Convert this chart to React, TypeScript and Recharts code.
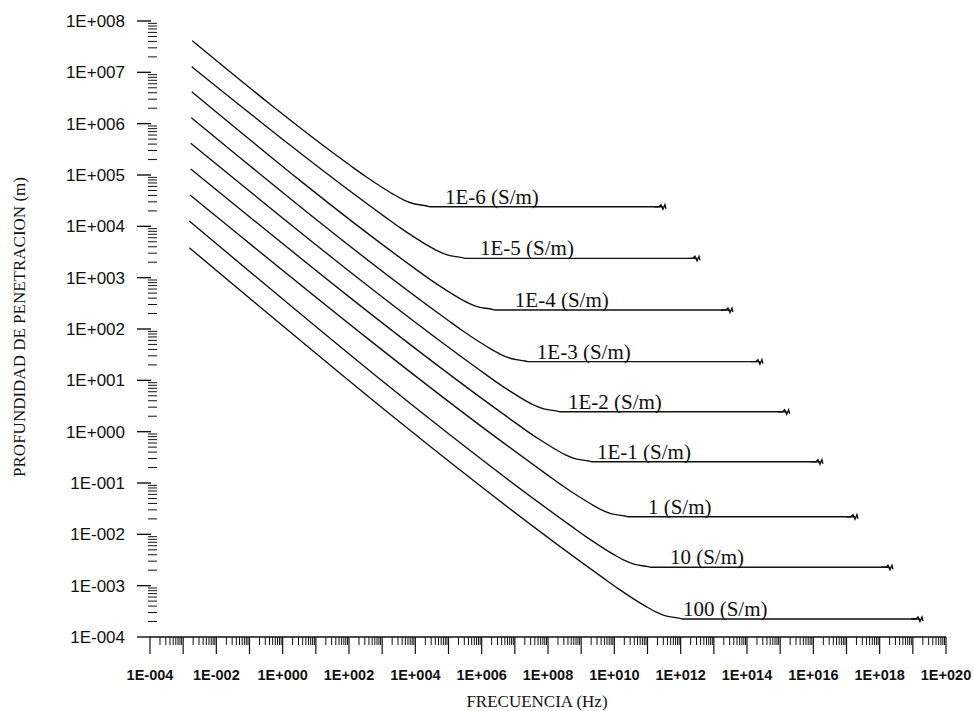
import React from 'react';
import { LineChart, Line, XAxis, YAxis, ReferenceDot } from 'recharts';

// ---- Data (frequency in Hz, depth in m) ----
const seriesNames = ['1E-6 (S/m)', '1E-5 (S/m)', '1E-4 (S/m)', '1E-3 (S/m)', '1E-2 (S/m)', '1E-1 (S/m)', '1 (S/m)', '10 (S/m)', '100 (S/m)'];

const freqS1 = [1.88e-3, 107, 303, 859, 2120, 4240, 8470, 2.24e4, 2.76e4, 2.92e11];
const depthS1 = [4.13e7, 1.545e5, 9.55e4, 6.1e4, 4.26e4, 3.33e4, 2.78e4, 2.49e4, 2.41e4, 2.41e4];

const freqS2 = [1.81e-3, 1216, 3440, 9770, 2.41e4, 4.82e4, 9.64e4, 2.55e5, 3.14e5, 3.1e12];
const depthS2 = [1.29e7, 1.528e4, 9440, 6030, 4210, 3290, 2750, 2460, 2380, 2380];

const freqS3 = [1.81e-3, 9750, 2.76e4, 7.83e4, 1.93e5, 3.86e5, 7.73e5, 2.05e6, 2.52e6, 3.06e13];
const depthS3 = [4.2e6, 1503, 929, 593, 414, 324, 270, 242, 234, 234];

const freqS4 = [1.76e-3, 9.64e4, 2.73e5, 7.74e5, 1.91e6, 3.82e6, 7.64e6, 2.02e7, 2.49e7, 2.45e14];
const depthS4 = [1.31e6, 148, 91.4, 58.3, 40.7, 31.8, 26.6, 23.8, 23.1, 23.1];

const freqS5 = [1.69e-3, 8.89e5, 2.52e6, 7.14e6, 1.76e7, 3.52e7, 7.05e7, 1.87e8, 2.3e8, 1.57e15];
const depthS5 = [4.14e5, 15.7, 9.68, 6.18, 4.32, 3.37, 2.82, 2.52, 2.44, 2.44];

const freqS6 = [1.69e-3, 8.18e6, 2.32e7, 6.58e7, 1.62e8, 3.24e8, 6.49e8, 1.72e9, 2.11e9, 1.58e16];
const depthS6 = [1.31e5, 1.662, 1.028, 0.657, 0.4586, 0.3584, 0.2995, 0.2677, 0.2594, 0.2594];

const freqS7 = [1.61e-3, 9.98e7, 2.82e8, 8.02e8, 1.98e9, 3.95e9, 7.91e9, 2.09e10, 2.58e10, 1.8e17];
const depthS7 = [4.07e4, 0.141, 0.0873, 0.0558, 0.039, 0.0304, 0.0254, 0.0227, 0.022, 0.022];

const freqS8 = [1.53e-3, 4.92e8, 1.39e9, 3.95e9, 9.75e9, 1.95e10, 3.9e10, 1.03e11, 1.27e11, 2.04e18];
const depthS8 = [1.27e4, 0.01457, 9.02e-3, 5.76e-3, 4.02e-3, 3.14e-3, 2.63e-3, 2.35e-3, 2.28e-3, 2.28e-3];

const freqS9 = [1.53e-3, 4.48e9, 1.27e10, 3.6e10, 8.87e10, 1.77e11, 3.55e11, 9.4e11, 1.16e12, 1.64e19];
const depthS9 = [3.83e3, 1.433e-3, 8.87e-4, 5.67e-4, 3.96e-4, 3.09e-4, 2.58e-4, 2.31e-4, 2.24e-4, 2.24e-4];

// frequency where each curve label starts (on its flat part)
const labelFreqs = [7.8e4, 8.9e5, 1.0e7, 4.6e7, 4.0e8, 3.0e9, 1.03e11, 4.75e11, 1.17e12];

// ---- Axis ticks ----
const xMajorTicks = [1e-4, 1e-3, 1e-2, 1e-1, 1e0, 1e1, 1e2, 1e3, 1e4, 1e5, 1e6, 1e7, 1e8, 1e9, 1e10, 1e11, 1e12, 1e13, 1e14, 1e15, 1e16, 1e17, 1e18, 1e19, 1e20];
const xTickLabels = ['1E-004', '1E-002', '1E+000', '1E+002', '1E+004', '1E+006', '1E+008', '1E+010', '1E+012', '1E+014', '1E+016', '1E+018', '1E+020'];
const yMajorTicks = [1e8, 1e7, 1e6, 1e5, 1e4, 1e3, 1e2, 1e1, 1e0, 1e-1, 1e-2, 1e-3, 1e-4];
const yTickLabels = ['1E+008', '1E+007', '1E+006', '1E+005', '1E+004', '1E+003', '1E+002', '1E+001', '1E+000', '1E-001', '1E-002', '1E-003', '1E-004'];
const minorMultipliers = [2, 3, 4, 5, 6, 7, 8, 9];

const xTicksAll: number[] = [...xMajorTicks];
for (let e = -4; e < 20; e++) for (const m of minorMultipliers) xTicksAll.push(m * Math.pow(10, e));
xTicksAll.sort((a, b) => a - b);
const yTicksAll: number[] = [...yMajorTicks];
for (let e = -4; e < 8; e++) for (const m of minorMultipliers) yTicksAll.push(m * Math.pow(10, e));
yTicksAll.sort((a, b) => a - b);

const freqs = [freqS1, freqS2, freqS3, freqS4, freqS5, freqS6, freqS7, freqS8, freqS9];
const depths = [depthS1, depthS2, depthS3, depthS4, depthS5, depthS6, depthS7, depthS8, depthS9];
const seriesData = freqs.map((fs, i) => fs.map((f, j) => ({ f, d: depths[i][j] })));

const INK = '#111';
const SERIF = '"Liberation Serif", "Times New Roman", serif';
const SANS = '"Liberation Sans", Arial, sans-serif';

const decadeOf = (v: number) => {
  const l = Math.log10(v);
  const r = Math.round(l);
  return Math.abs(l - r) < 1e-6 ? r : null;
};

const XTick = (props: any) => {
  const { x, y, payload } = props;
  const e = decadeOf(payload.value);
  if (e === null) {
    return <line x1={x} x2={x} y1={y} y2={y + 8} stroke={INK} strokeWidth={1} />;
  }
  const lab = e % 2 === 0 ? xTickLabels[(e + 4) / 2] : null;
  return (
    <g>
      <line x1={x} x2={x} y1={y} y2={y + 17} stroke={INK} strokeWidth={1.2} />
      {lab && (
        <text x={x} y={y + 43} textAnchor="middle" fontFamily={SANS} fontSize={14.5} fontWeight={700} fill={INK}>
          {lab}
        </text>
      )}
    </g>
  );
};

const YTick = (props: any) => {
  const { x, y, payload } = props;
  const e = decadeOf(payload.value);
  if (e === null) {
    return <line x1={x - 2} x2={x + 7} y1={y} y2={y} stroke={INK} strokeWidth={1} />;
  }
  return (
    <g>
      <line x1={x - 13} x2={x + 1} y1={y} y2={y} stroke={INK} strokeWidth={1.4} />
      <text x={x - 25} y={y + 6} textAnchor="end" fontFamily={SANS} fontSize={17} fill={INK}>
        {yTickLabels[8 - e]}
      </text>
    </g>
  );
};

const makeEndMark = (n: number) => (props: any) => {
  const { cx, cy, index } = props;
  if (index !== n - 1 || cx == null || cy == null) return <g key={`e${index}`} />;
  return (
    <path
      key={`e${index}`}
      d={`M${cx - 9},${cy} L${cx - 4},${cy} L${cx - 2},${cy - 2} L${cx},${cy + 2.5} L${cx + 2},${cy - 2} L${cx + 3},${cy + 2}`}
      stroke={INK}
      strokeWidth={1.4}
      fill="none"
    />
  );
};

const XTitle = () => (
  <text x={537} y={707} textAnchor="middle" fontFamily={SERIF} fontSize={17} fill={INK}>
    FRECUENCIA (Hz)
  </text>
);
const YTitle = () => (
  <text x={25} y={327} textAnchor="middle" transform="rotate(-90, 25, 327)" fontFamily={SERIF} fontSize={17} fill={INK}>
    PROFUNDIDAD DE PENETRACION (m)
  </text>
);

export default function App() {
  return (
    <div style={{ position: 'absolute', left: 0, top: 0, width: 974, height: 711, background: '#fff' }}>
      <LineChart width={974} height={711} margin={{ top: 21, right: 28, bottom: 0, left: 0 }}>
        <XAxis
          xAxisId="x"
          type="number"
          dataKey="f"
          scale="log"
          domain={[1e-4, 1e20]}
          allowDataOverflow
          ticks={xTicksAll}
          interval={0}
          tickSize={0}
          tickMargin={0}
          tickLine={false}
          height={74}
          axisLine={{ stroke: INK, strokeWidth: 1.5 }}
          tick={XTick}
          label={{ content: XTitle }}
        />
        <YAxis
          yAxisId="y"
          type="number"
          scale="log"
          domain={[1e-4, 1e8]}
          allowDataOverflow
          ticks={yTicksAll}
          interval={0}
          width={150}
          tickSize={0}
          tickMargin={0}
          tickLine={false}
          axisLine={false}
          tick={YTick}
          label={{ content: YTitle }}
        />
        {seriesData.map((data, i) => (
          <Line
            key={seriesNames[i]}
            xAxisId="x"
            yAxisId="y"
            data={data}
            dataKey="d"
            type="monotone"
            stroke={INK}
            strokeWidth={1.4}
            dot={makeEndMark(data.length)}
            activeDot={false}
            isAnimationActive={false}
          />
        ))}
        {seriesData.map((data, i) => (
          <ReferenceDot
            key={`lab${i}`}
            xAxisId="x"
            yAxisId="y"
            x={labelFreqs[i]}
            y={data[data.length - 1].d}
            r={0}
            ifOverflow="visible"
            shape={(p: any) => (
              <text x={p.cx} y={p.cy - 3} fontFamily={SERIF} fontSize={21} fill={INK}>
                {seriesNames[i]}
              </text>
            )}
          />
        ))}
      </LineChart>
    </div>
  );
}
